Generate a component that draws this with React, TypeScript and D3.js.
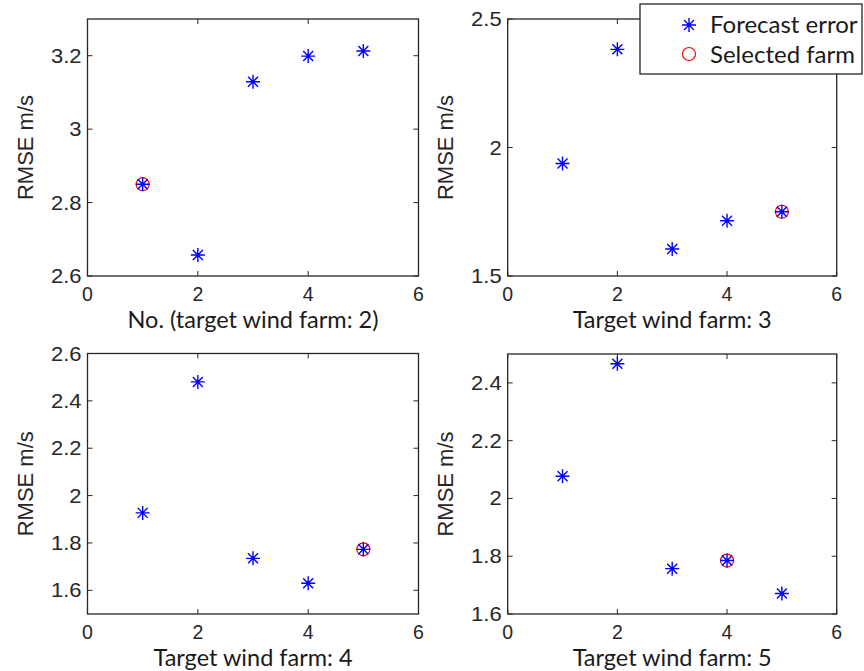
import React, { useRef, useEffect } from "react";
import * as d3 from "d3";

// Wind farm index (x axis) for every panel
const farms = [1, 2, 3, 4, 5];

// RMSE (m/s) of forecast error, one array per target wind farm
const rmseTarget2 = [2.85, 2.657, 3.129, 3.199, 3.213];
const rmseTarget3 = [1.938, 2.382, 1.605, 1.715, 1.75];
const rmseTarget4 = [1.927, 2.48, 1.735, 1.63, 1.773];
const rmseTarget5 = [2.077, 2.466, 1.757, 1.785, 1.671];

// Farm chosen in each panel (red circle)
const selectedFarm = [1, 5, 5, 4];

const xLabels = [
  "No. (target wind farm: 2)",
  "Target wind farm: 3",
  "Target wind farm: 4",
  "Target wind farm: 5",
];

const xTicks = [0, 2, 4, 6];
const yDomains: [number, number][] = [
  [2.6, 3.3],
  [1.5, 2.5],
  [1.5, 2.6],
  [1.6, 2.5],
];
const yTicks = [
  [2.6, 2.8, 3, 3.2],
  [1.5, 2, 2.5],
  [1.6, 1.8, 2, 2.2, 2.4, 2.6],
  [1.6, 1.8, 2, 2.2, 2.4],
];

const legendLabels = ["Forecast error", "Selected farm"];

const W = 864;
const H = 671;

// plot boxes (pixel layout)
const boxes = [
  { left: 87.5, right: 418.5, top: 19, bottom: 276 },
  { left: 507.7, right: 836.7, top: 19, bottom: 276 },
  { left: 87.5, right: 418.5, top: 353.5, bottom: 614 },
  { left: 507.7, right: 836.7, top: 354, bottom: 614 },
];

const AXIS = "#262626";
const TICK_FONT = "'Liberation Sans', Arial, sans-serif";
const LABEL_FONT = "Lato, 'Open Sans', sans-serif";

function drawStar(g: d3.Selection<SVGGElement, unknown, null, undefined>, cx: number, cy: number) {
  const s = 7;
  const d = 5;
  g.append("path")
    .attr(
      "d",
      `M${cx - s},${cy}L${cx + s},${cy}M${cx},${cy - s}L${cx},${cy + s}` +
        `M${cx - d},${cy - d}L${cx + d},${cy + d}M${cx - d},${cy + d}L${cx + d},${cy - d}`
    )
    .attr("stroke", "#0000ff")
    .attr("stroke-width", 1.4)
    .attr("fill", "none");
}

function drawRing(g: d3.Selection<SVGGElement, unknown, null, undefined>, cx: number, cy: number) {
  g.append("circle")
    .attr("cx", cx)
    .attr("cy", cy)
    .attr("r", 6.5)
    .attr("fill", "none")
    .attr("stroke", "#ff0000")
    .attr("stroke-width", 1.2);
}

export default function App() {
  const svgRef = useRef<SVGSVGElement>(null);

  useEffect(() => {
    if (!svgRef.current) return;
    const svg = d3.select(svgRef.current);
    svg.selectAll("*").remove();

    const series = [rmseTarget2, rmseTarget3, rmseTarget4, rmseTarget5];

    series.forEach((values, i) => {
      const b = boxes[i];
      const x = d3.scaleLinear().domain([0, 6]).range([b.left, b.right]);
      const y = d3.scaleLinear().domain(yDomains[i]).range([b.bottom, b.top]);
      const g = svg.append("g");
      const tl = 5;

      // frame
      g.append("rect")
        .attr("x", b.left)
        .attr("y", b.top)
        .attr("width", b.right - b.left)
        .attr("height", b.bottom - b.top)
        .attr("fill", "none")
        .attr("stroke", AXIS)
        .attr("stroke-width", 1.3);

      // x ticks (inside, top and bottom)
      xTicks.forEach((t) => {
        const px = x(t);
        g.append("line").attr("x1", px).attr("x2", px).attr("y1", b.bottom).attr("y2", b.bottom - tl)
          .attr("stroke", AXIS);
        g.append("line").attr("x1", px).attr("x2", px).attr("y1", b.top).attr("y2", b.top + tl)
          .attr("stroke", AXIS);
        g.append("text")
          .attr("x", px)
          .attr("y", b.bottom + 25)
          .attr("text-anchor", "middle")
          .attr("font-family", TICK_FONT)
          .attr("font-size", 19.5)
          .attr("fill", AXIS)
          .text(String(t));
      });

      // y ticks (inside, left and right)
      yTicks[i].forEach((t) => {
        const py = y(t);
        g.append("line").attr("x1", b.left).attr("x2", b.left + tl).attr("y1", py).attr("y2", py)
          .attr("stroke", AXIS);
        g.append("line").attr("x1", b.right).attr("x2", b.right - tl).attr("y1", py).attr("y2", py)
          .attr("stroke", AXIS);
        g.append("text")
          .attr("transform", `translate(${b.left - 6},${py + 7}) scale(1.1,1)`)
          .attr("text-anchor", "end")
          .attr("font-family", TICK_FONT)
          .attr("font-size", 20)
          .attr("fill", AXIS)
          .text(d3.format("~g")(t));
      });

      // y label
      const cy = (b.top + b.bottom) / 2;
      g.append("text")
        .attr("transform", `translate(${b.left - 55},${cy}) rotate(-90)`)
        .attr("text-anchor", "middle")
        .attr("font-family", TICK_FONT)
        .attr("font-size", 22)
        .attr("fill", AXIS)
        .text("RMSE m/s");

      // x label
      g.append("text")
        .attr("x", (b.left + b.right) / 2)
        .attr("y", b.bottom + 51.5)
        .attr("text-anchor", "middle")
        .attr("font-family", LABEL_FONT)
        .attr("font-size", 23.5)
        .attr("fill", "#1a1a1a")
        .text(xLabels[i]);

      // selected farm ring, then stars
      const sel = selectedFarm[i];
      drawRing(g, x(sel), y(values[farms.indexOf(sel)]));
      farms.forEach((f, k) => drawStar(g, x(f), y(values[k])));
    });

    // legend
    const lg = svg.append("g");
    lg.append("rect")
      .attr("x", 640)
      .attr("y", 4)
      .attr("width", 222)
      .attr("height", 70)
      .attr("fill", "#fff")
      .attr("stroke", AXIS)
      .attr("stroke-width", 1.3);
    drawStar(lg, 689, 25);
    drawRing(lg, 689, 54);
    legendLabels.forEach((lab, k) => {
      lg.append("text")
        .attr("x", 710)
        .attr("y", 33 + k * 29.5)
        .attr("font-family", LABEL_FONT)
        .attr("font-size", 24)
        .attr("fill", "#1a1a1a")
        .text(lab);
    });
  }, []);

  return (
    <svg
      ref={svgRef}
      width={W}
      height={H}
      style={{ position: "absolute", left: 0, top: 0, background: "#fff" }}
    />
  );
}
